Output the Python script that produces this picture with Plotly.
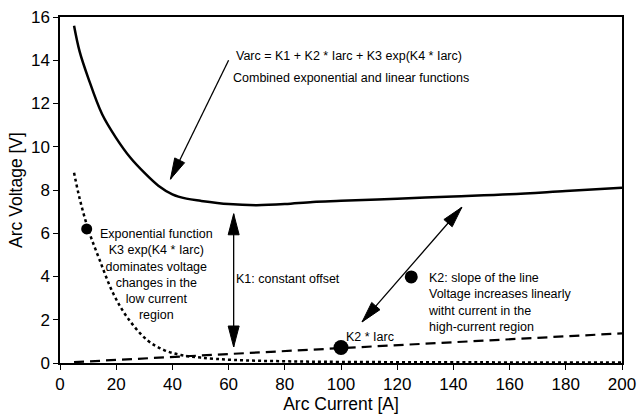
import numpy as np
import plotly.graph_objects as go

# Arc current [A] and voltage components [V]
total_current = [5, 7, 10, 15, 20, 25, 30, 35, 40, 45, 50, 60, 70, 80, 90, 100, 120, 140, 160, 180, 200]
total_voltage = [15.6, 14.4, 13.2, 11.5, 10.4, 9.5, 8.8, 8.2, 7.8, 7.6, 7.5, 7.35, 7.3, 7.35, 7.45, 7.5, 7.6, 7.7, 7.8, 7.95, 8.1]

exp_current = [5, 7, 10, 14, 19, 24, 31, 37, 43, 50, 62, 80, 100, 150, 200]
exp_voltage = [8.8, 7.6, 6.2, 4.8, 3.2, 2.1, 1.06, 0.6, 0.37, 0.25, 0.14, 0.08, 0.05, 0.03, 0.02]

lin_current = [5, 50, 100, 150, 200]
lin_voltage = [0.04, 0.35, 0.70, 1.03, 1.37]

# Highlighted points
dot_current = [9.5, 100, 125]
dot_voltage = [6.2, 0.72, 3.98]
dot_size = [11, 15, 13]

# Pointer arrows: tail -> tip, with a flag for a head at the tail too
arrow_tail_x = [60.0, 61.8, 107.5]
arrow_tail_y = [14.0, 0.74, 1.9]
arrow_tip_x = [39.3, 61.8, 143.0]
arrow_tip_y = [8.5, 6.9, 7.2]
arrow_double = [False, True, True]

x_ticks = [0, 20, 40, 60, 80, 100, 120, 140, 160, 180, 200]
y_ticks = [0, 2, 4, 6, 8, 10, 12, 14, 16]

FONT = "Liberation Sans, Arial, Helvetica, sans-serif"

W, H = 637, 416
M = dict(l=60, r=15, t=17, b=53)
X_RANGE = [0, 200]
Y_RANGE = [0, 16]
# pixels per data unit, so arrowheads keep their shape on screen
SX = (W - M["l"] - M["r"]) / (X_RANGE[1] - X_RANGE[0])
SY = (H - M["t"] - M["b"]) / (Y_RANGE[1] - Y_RANGE[0])
HEAD_LEN, HEAD_HALF = 21.0, 5.5


def head_polygon(tx, ty, fx, fy):
    """Filled triangle with its point at (tx, ty), aimed away from (fx, fy)."""
    d = np.array([(tx - fx) * SX, (ty - fy) * SY])
    u = d / np.hypot(*d)
    n = np.array([-u[1], u[0]])
    tip = np.array([tx * SX, ty * SY])
    base = tip - HEAD_LEN * u
    pts = [tip, base + HEAD_HALF * n, base - HEAD_HALF * n, tip]
    return [p[0] / SX for p in pts], [p[1] / SY for p in pts]


fig = go.Figure()
fig.add_trace(go.Scatter(x=total_current, y=total_voltage, mode="lines",
                         line=dict(color="black", width=2.5, shape="spline")))
fig.add_trace(go.Scatter(x=exp_current, y=exp_voltage, mode="lines",
                         line=dict(color="black", width=2.5, dash="dot", shape="spline")))
fig.add_trace(go.Scatter(x=lin_current, y=lin_voltage, mode="lines",
                         line=dict(color="black", width=2.2, dash="10px,6px")))
fig.add_trace(go.Scatter(x=dot_current, y=dot_voltage, mode="markers",
                         marker=dict(color="black", size=dot_size, opacity=1, line=dict(width=0))))

for tx0, ty0, tx1, ty1, dbl in zip(arrow_tail_x, arrow_tail_y, arrow_tip_x, arrow_tip_y, arrow_double):
    fig.add_trace(go.Scatter(x=[tx0, tx1], y=[ty0, ty1], mode="lines",
                             line=dict(color="black", width=1.3)))
    ends = [(tx1, ty1, tx0, ty0)]
    if dbl:
        ends.append((tx0, ty0, tx1, ty1))
    for e in ends:
        hx, hy = head_polygon(*e)
        fig.add_trace(go.Scatter(x=hx, y=hy, mode="lines", fill="toself", fillcolor="black",
                                 line=dict(color="black", width=1)))

text_style = dict(showarrow=False, font=dict(family=FONT, size=12.5, color="black"))
annotations = [
    dict(x=62, y=14.2, xanchor="left", yanchor="middle", align="left",
         text="Varc = K1 + K2 * Iarc + K3 exp(K4 * Iarc)", **text_style),
    dict(x=61, y=13.2, xanchor="left", yanchor="middle", align="left",
         text="Combined exponential and linear functions", **text_style),
    dict(x=34.5, y=4.07, xanchor="center", yanchor="middle", align="center",
         text="Exponential function<br>K3 exp(K4 * Iarc)<br>dominates voltage<br>changes in the<br>low current<br>region",
         **text_style),
    dict(x=62, y=3.9, xanchor="left", yanchor="middle", align="left",
         text="K1: constant offset", **text_style),
    dict(x=130.3, y=2.78, xanchor="left", yanchor="middle", align="left",
         text="K2: slope of the line<br>Voltage increases linearly<br>witht current in the<br>high-current region",
         **text_style),
    dict(x=101, y=1.2, xanchor="left", yanchor="middle", align="left",
         text="K2 * Iarc", **text_style),
]

axis_common = dict(showline=True, linecolor="black", linewidth=1.5, mirror=True,
                   ticks="outside", ticklen=5, tickcolor="black", tickwidth=1.2,
                   showgrid=False, zeroline=False, automargin=False,
                   tickfont=dict(family=FONT, size=17, color="black"))

fig.update_xaxes(range=X_RANGE, tickvals=x_ticks, **axis_common,
                 title=dict(text="Arc Current [A]", font=dict(family=FONT, size=17.5, color="black"),
                            standoff=2))
fig.update_yaxes(range=Y_RANGE, tickvals=y_ticks, **axis_common,
                 title=dict(text="Arc Voltage [V]", font=dict(family=FONT, size=17.5, color="black"),
                            standoff=4))

fig.update_layout(width=W, height=H, margin=M,
                  paper_bgcolor="white", plot_bgcolor="white",
                  annotations=annotations, showlegend=False)

fig.write_html("out.html")
